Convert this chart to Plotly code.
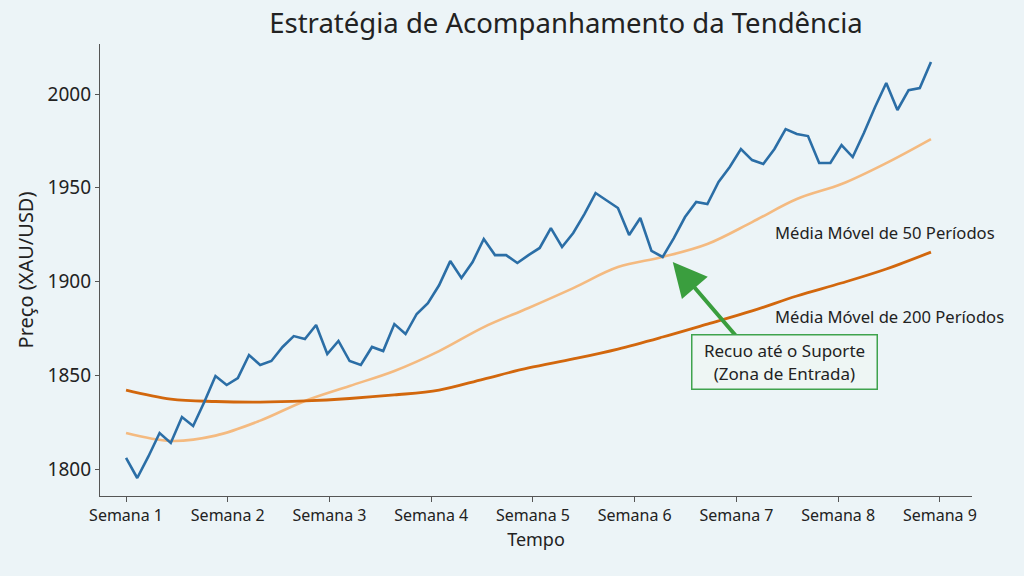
import numpy as np
import plotly.graph_objects as go

# ---- data ----
price = [1805.9, 1795.2, 1806.7, 1819.2, 1813.9, 1827.7, 1822.9, 1835.7, 1849.6, 1844.8,
         1848.5, 1860.8, 1855.5, 1857.6, 1865.1, 1870.9, 1869.3, 1876.8, 1861.3, 1868.3,
         1857.6, 1855.5, 1865.1, 1862.9, 1877.3, 1872.0, 1882.7, 1888.5, 1898.0, 1910.9,
         1901.9, 1910.4, 1922.7, 1914.1, 1914.1, 1909.9, 1914.1, 1917.9, 1928.5, 1918.4,
         1925.9, 1936.0, 1947.2, 1943.3, 1939.2, 1924.8, 1933.9, 1916.3, 1913.1, 1923.2,
         1934.4, 1942.4, 1941.3, 1953.1, 1961.1, 1970.7, 1964.8, 1962.7, 1970.7, 1981.3,
         1978.7, 1977.6, 1963.2, 1963.2, 1972.8, 1966.4, 1979.2, 1993.1, 2005.9, 1991.5,
         2002.1, 2003.2, 2017.1]
ma_index = list(range(0, 73, 4))
ma50 = [1819.2, 1815.0, 1817.8, 1825.8, 1836.3, 1844.3, 1852.3, 1862.9, 1875.7, 1885.9,
        1896.5, 1907.7, 1913.1, 1920.0, 1931.7, 1944.0, 1952.0, 1963.2, 1976.0]
ma200 = [1842.1, 1837.3, 1836.0, 1835.7, 1836.3, 1837.6, 1839.5, 1842.1, 1848.0, 1853.9,
         1858.7, 1864.0, 1870.4, 1877.3, 1884.3, 1892.3, 1899.2, 1906.7, 1915.7]
week_labels = [f"Semana {k}" for k in range(1, 10)]
points_per_week = 9.1

x = np.arange(len(price))
tickvals = [k * points_per_week for k in range(len(week_labels))]

BG = "#ecf4f7"
FONT = "Noto Sans"
TXT = "#222222"

fig = go.Figure()
fig.add_trace(go.Scatter(x=ma_index, y=ma50, mode="lines", line=dict(color="#f4ba80", width=2.6, shape="spline"),
                         name="MM50", hoverinfo="skip"))
fig.add_trace(go.Scatter(x=ma_index, y=ma200, mode="lines", line=dict(color="#d2670d", width=2.8, shape="spline"),
                         name="MM200", hoverinfo="skip"))
fig.add_trace(go.Scatter(x=x, y=price, mode="lines", line=dict(color="#2b6ea6", width=2.6),
                         name="Preço"))

fig.update_layout(
    width=1024, height=576,
    paper_bgcolor=BG, plot_bgcolor=BG,
    margin=dict(l=100, r=52, t=44, b=80),
    showlegend=False,
    font=dict(family=FONT, color=TXT),
    title=dict(text="Estratégia de Acompanhamento da Tendência", x=566/1024, xanchor="center",
               y=1 - 23/576, yanchor="middle", font=dict(size=27.5, family=FONT, color=TXT)),
)
fig.update_xaxes(range=[-2.33, 75.67], tickvals=tickvals, ticktext=week_labels,
                 showgrid=False, zeroline=False, showline=True, linecolor="#555555", linewidth=1.2,
                 ticks="outside", ticklen=5, tickcolor="#555555", tickfont=dict(size=16, color=TXT),
                 title=dict(text="Tempo", font=dict(size=18, color=TXT), standoff=8))
fig.update_yaxes(range=[1785.6, 2026.7], tickvals=[1800, 1850, 1900, 1950, 2000],
                 showgrid=False, zeroline=False, showline=True, linecolor="#555555", linewidth=1.2,
                 ticks="outside", ticklen=4, tickcolor="#555555", tickfont=dict(size=19, color=TXT),
                 title=dict(text="Preço (XAU/USD)", font=dict(size=20, color=TXT), standoff=8))

# line labels (paper x is relative to the plot area)
lab_x = (773 - 100) / 872
fig.add_annotation(x=lab_x, xref="paper", y=1926.4, yref="y", xanchor="left", yanchor="middle",
                   text="Média Móvel de 50 Períodos", showarrow=False, font=dict(size=16.6, color=TXT))
fig.add_annotation(x=lab_x, xref="paper", y=1881.1, yref="y", xanchor="left", yanchor="middle",
                   text="Média Móvel de 200 Períodos", showarrow=False, font=dict(size=16.6, color=TXT))
# arrow
fig.add_annotation(x=48.9, y=1910.4, ax=54.7, ay=1870.0, axref="x", ayref="y", text="",
                   showarrow=True, arrowhead=2, arrowsize=1.7, arrowwidth=4, arrowcolor="#3a9e3e", standoff=0)
# box
fig.add_annotation(x=58.9, y=1857.1, text="Recuo até o Suporte<br>(Zona de Entrada)", showarrow=False,
                   font=dict(size=17, color=TXT), bordercolor="#3fa34d", borderwidth=1.5, borderpad=4,
                   width=176, height=45, bgcolor="#eef6f4", align="center")

fig.write_html("out.html")
